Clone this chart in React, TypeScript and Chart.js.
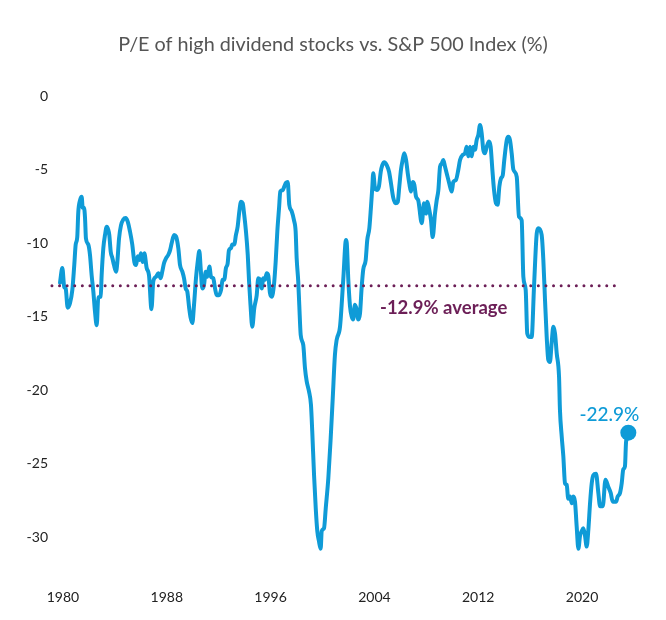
import React, { useEffect, useRef } from "react";
import { Chart, registerables } from "chart.js";

Chart.register(...registerables);

const TITLE = "P/E of high dividend stocks vs. S&P 500 Index (%)";

const years = [
  1979.77, 1979.95, 1980.1, 1980.21, 1980.36, 1980.54, 1980.72, 1980.87, 1980.98, 1981.1,
  1981.18, 1981.31, 1981.44, 1981.52, 1981.62, 1981.7, 1981.77, 1981.95, 1982.08, 1982.21,
  1982.34, 1982.47, 1982.6, 1982.72, 1982.91, 1982.98, 1983.11, 1983.24, 1983.37, 1983.49,
  1983.57, 1983.68, 1983.8, 1983.93, 1984.09, 1984.19, 1984.32, 1984.47, 1984.65, 1984.83,
  1984.99, 1985.16, 1985.34, 1985.5, 1985.63, 1985.76, 1985.88, 1986.01, 1986.14, 1986.27,
  1986.45, 1986.63, 1986.82, 1986.96, 1987.17, 1987.35, 1987.53, 1987.65, 1987.78, 1987.94,
  1988.12, 1988.25, 1988.38, 1988.56, 1988.71, 1988.89, 1989.02, 1989.2, 1989.33, 1989.46,
  1989.58, 1989.73, 1989.84, 1989.97, 1990.1, 1990.25, 1990.38, 1990.51, 1990.61, 1990.74,
  1990.87, 1991.0, 1991.12, 1991.28, 1991.41, 1991.58, 1991.72, 1991.85, 1992.02, 1992.18,
  1992.31, 1992.43, 1992.56, 1992.69, 1992.79, 1992.95, 1993.05, 1993.2, 1993.33, 1993.46,
  1993.59, 1993.72, 1993.85, 1993.97, 1994.1, 1994.24, 1994.34, 1994.45, 1994.59, 1994.74,
  1994.93, 1995.05, 1995.18, 1995.31, 1995.44, 1995.57, 1995.7, 1995.82, 1995.95, 1996.09,
  1996.26, 1996.39, 1996.52, 1996.65, 1996.75, 1996.94, 1997.06, 1997.19, 1997.32, 1997.44,
  1997.63, 1997.8, 1997.93, 1998.01, 1998.13, 1998.21, 1998.32, 1998.52, 1998.65, 1998.78,
  1998.96, 1999.11, 1999.21, 1999.35, 1999.48, 1999.6, 1999.73, 1999.86, 1999.94, 2000.12,
  2000.25, 2000.45, 2000.63, 2000.79, 2000.96, 2001.09, 2001.35, 2001.6, 2001.81, 2001.87,
  2001.99, 2002.12, 2002.25, 2002.37, 2002.5, 2002.64, 2002.76, 2002.89, 2003.02, 2003.14,
  2003.33, 2003.45, 2003.61, 2003.74, 2003.84, 2003.91, 2004.05, 2004.18, 2004.35, 2004.49,
  2004.61, 2004.76, 2004.95, 2005.13, 2005.28, 2005.46, 2005.64, 2005.8, 2005.92, 2006.05,
  2006.18, 2006.3, 2006.44, 2006.57, 2006.69, 2006.82, 2006.95, 2007.08, 2007.21, 2007.38,
  2007.65, 2007.82, 2007.98, 2008.08, 2008.23, 2008.36, 2008.49, 2008.67, 2008.8, 2008.93,
  2009.06, 2009.19, 2009.31, 2009.44, 2009.57, 2009.77, 2009.96, 2010.08, 2010.29, 2010.47,
  2010.6, 2010.81, 2010.98, 2011.11, 2011.24, 2011.37, 2011.5, 2011.62, 2011.75, 2011.88,
  2012.01, 2012.14, 2012.27, 2012.39, 2012.52, 2012.66, 2012.83, 2012.96, 2013.09, 2013.22,
  2013.37, 2013.5, 2013.63, 2013.76, 2013.89, 2014.01, 2014.2, 2014.32, 2014.45, 2014.58,
  2014.71, 2014.97, 2015.14, 2015.35, 2015.48, 2015.66, 2015.78, 2015.99, 2016.12, 2016.3,
  2016.51, 2016.63, 2016.89, 2017.02, 2017.15, 2017.28, 2017.4, 2017.53, 2017.66, 2017.79,
  2017.92, 2018.05, 2018.23, 2018.3, 2018.44, 2018.56, 2018.69, 2018.82, 2018.94, 2019.08,
  2019.21, 2019.33, 2019.46, 2019.59, 2019.72, 2019.85, 2019.98, 2020.1, 2020.23, 2020.36,
  2020.49, 2020.62, 2020.75, 2020.87, 2021.08, 2021.26, 2021.39, 2021.6, 2021.81, 2022.03,
  2022.21, 2022.37, 2022.62, 2022.75, 2022.93, 2023.06, 2023.18, 2023.31, 2023.39, 2023.57,
];

const peValues = [
  -12.7, -11.7, -13.0, -13.1, -14.4, -14.1, -13.2, -11.5, -10.1, -9.6,
  -7.9, -7.1, -6.85, -7.6, -7.6, -8.3, -9.7, -10.1, -10.8, -12.2,
  -13.3, -14.7, -15.6, -13.7, -13.65, -12.2, -10.35, -9.45, -8.9, -9.1,
  -9.45, -10.6, -11.0, -11.5, -11.95, -11.3, -9.7, -8.8, -8.4, -8.3,
  -8.55, -9.2, -10.1, -11.3, -11.5, -10.9, -11.15, -10.7, -11.3, -10.7,
  -11.7, -12.2, -14.5, -12.6, -12.3, -12.05, -12.4, -11.95, -11.4, -11.05,
  -10.8, -10.5, -10.0, -9.45, -9.55, -10.35, -11.5, -11.95, -12.4, -13.1,
  -13.3, -14.45, -15.1, -15.45, -14.2, -12.4, -11.3, -10.55, -11.7, -13.1,
  -12.85, -11.95, -12.3, -11.6, -12.3, -12.4, -13.1, -13.55, -13.55, -13.2,
  -12.5, -12.5, -11.7, -11.4, -10.5, -10.35, -10.1, -10.1, -9.45, -8.9,
  -7.85, -7.2, -7.3, -8.1, -9.2, -10.8, -12.6, -14.2, -15.7, -14.45,
  -13.55, -12.4, -12.5, -13.1, -12.4, -12.5, -12.05, -12.2, -13.4, -13.65,
  -12.85, -11.3, -9.2, -7.65, -6.5, -6.4, -6.15, -5.9, -5.85, -7.4,
  -7.85, -8.45, -9.2, -11.05, -12.6, -14.2, -16.25, -16.95, -18.5, -19.4,
  -20.1, -21.0, -22.8, -25.8, -28.05, -29.6, -30.3, -30.8, -29.6, -29.4,
  -28.05, -26.0, -23.3, -20.55, -17.6, -16.6, -15.7, -12.5, -9.8, -10.0,
  -12.5, -14.3, -15.0, -15.2, -14.2, -14.55, -15.2, -14.8, -13.0, -11.8,
  -11.15, -9.8, -9.0, -7.5, -6.2, -5.25, -6.3, -6.4, -6.15, -5.15,
  -4.7, -4.5, -4.7, -5.15, -5.95, -6.95, -7.3, -7.2, -6.15, -5.0,
  -4.35, -3.9, -4.35, -5.25, -5.95, -6.5, -5.85, -6.05, -6.85, -7.1,
  -8.65, -7.3, -8.0, -7.2, -7.75, -8.45, -9.6, -8.0, -7.1, -6.4,
  -4.8, -4.6, -4.35, -4.8, -5.25, -5.95, -6.5, -5.85, -5.7, -5.0,
  -4.35, -4.0, -3.9, -3.45, -4.1, -3.45, -4.1, -3.45, -3.65, -3.0,
  -2.65, -1.97, -2.55, -3.65, -3.9, -3.45, -3.1, -3.45, -5.0, -6.4,
  -7.3, -7.4, -6.15, -5.6, -5.4, -4.35, -3.0, -2.77, -3.0, -3.9,
  -5.0, -5.5, -8.2, -8.45, -12.3, -13.2, -16.15, -16.4, -16.4, -13.0,
  -9.35, -9.0, -9.45, -11.15, -13.9, -16.4, -17.95, -18.1, -16.8, -15.7,
  -16.15, -17.5, -19.1, -21.35, -23.2, -24.5, -26.35, -26.45, -27.4, -27.25,
  -27.7, -27.25, -27.6, -29.3, -30.8, -29.9, -29.6, -29.4, -29.9, -30.65,
  -29.5, -27.7, -26.35, -25.8, -25.7, -27.0, -27.9, -27.9, -26.1, -26.6,
  -27.0, -27.6, -27.6, -27.25, -27.0, -26.35, -25.4, -25.2, -23.6, -22.9,
];

const AVERAGE = -12.9;
const averageSpan = [1979.15, 2022.7];
const xTickYears = [1980, 1988, 1996, 2004, 2012, 2020];
const yTickValues = [0, -5, -10, -15, -20, -25, -30];
const latestLabel = "-22.9%";
const averageLabel = "-12.9% average";
const averageLabelYear = 2004.43;

const X_MIN = 1979;
const X_MAX = 2024.5;
const Y_MIN = -33;
const Y_MAX = 1;

const BLUE = "#0f9bd7";
const PURPLE = "#6c1f57";

export default function App() {
  const ref = useRef<HTMLCanvasElement>(null);

  useEffect(() => {
    if (!ref.current) return;
    Chart.defaults.font.family = "Lato, 'Open Sans', sans-serif";
    const last = years.length - 1;

    const annotations = {
      id: "annotations",
      afterDatasetsDraw(chart: any) {
        const { ctx, scales } = chart;
        const x = scales.x;
        const y = scales.y;
        ctx.save();
        ctx.textBaseline = "middle";
        // title
        ctx.fillStyle = "#555555";
        ctx.font = "400 19.8px Lato";
        ctx.textAlign = "center";
        ctx.fillText(TITLE, chart.width / 2, 45);
        // latest value label
        const px = x.getPixelForValue(years[last]);
        const py = y.getPixelForValue(peValues[last]);
        ctx.fillStyle = BLUE;
        ctx.font = "500 19px Lato";
        ctx.textAlign = "right";
        ctx.fillText(latestLabel, px + 11, py - 18);
        // average label
        ctx.fillStyle = PURPLE;
        ctx.font = "bold 18.5px Lato";
        ctx.textAlign = "left";
        ctx.fillText(
          averageLabel,
          x.getPixelForValue(averageLabelYear),
          y.getPixelForValue(AVERAGE) + 22
        );
        ctx.restore();
      },
    };

    const chart = new Chart(ref.current, {
      type: "line",
      data: {
        datasets: [
          {
            label: "P/E relative",
            data: years.map((yr, i) => ({ x: yr, y: peValues[i] })),
            borderColor: BLUE,
            backgroundColor: BLUE,
            borderWidth: 4,
            borderJoinStyle: "round",
            borderCapStyle: "round",
            cubicInterpolationMode: "monotone",
            pointRadius: (c: any) => (c.dataIndex === last ? 8 : 0),
            pointBackgroundColor: BLUE,
            pointBorderWidth: 0,
            order: 1,
          },
          {
            label: "Average",
            data: averageSpan.map((yr) => ({ x: yr, y: AVERAGE })),
            borderColor: PURPLE,
            borderWidth: 3,
            borderDash: [0, 7.6],
            borderCapStyle: "round",
            pointRadius: 0,
            order: 0,
          },
        ],
      },
      options: {
        responsive: false,
        animation: false,
        layout: { padding: { left: 0, top: 81.3, right: 25.6, bottom: 0 } },
        plugins: {
          legend: { display: false },
          title: { display: false },
          tooltip: { enabled: false },
        },
        scales: {
          x: {
            type: "linear",
            min: X_MIN,
            max: X_MAX,
            grid: { display: false, drawTicks: false },
            border: { display: false },
            afterBuildTicks: (axis: any) => {
              axis.ticks = xTickYears.map((v) => ({ value: v }));
            },
            afterFit: (axis: any) => {
              axis.height = 38.9;
            },
            ticks: {
              color: "#222",
              font: { size: 14 },
              padding: 8,
              maxRotation: 0,
              autoSkip: false,
              callback: (v: any) => String(v),
            },
          },
          y: {
            type: "linear",
            min: Y_MIN,
            max: Y_MAX,
            grid: { display: false, drawTicks: false },
            border: { display: false },
            afterBuildTicks: (axis: any) => {
              axis.ticks = yTickValues.map((v) => ({ value: v }));
            },
            afterFit: (axis: any) => {
              axis.width = 50;
            },
            ticks: {
              color: "#222",
              font: { size: 14 },
              padding: 2,
              autoSkip: false,
              callback: (v: any) => String(v),
            },
          },
        },
      },
      plugins: [annotations],
    } as any);

    return () => chart.destroy();
  }, []);

  return (
    <div style={{ position: "absolute", left: 0, top: 0, width: 666, height: 620, background: "#fff" }}>
      <canvas ref={ref} width={666} height={620} />
    </div>
  );
}
